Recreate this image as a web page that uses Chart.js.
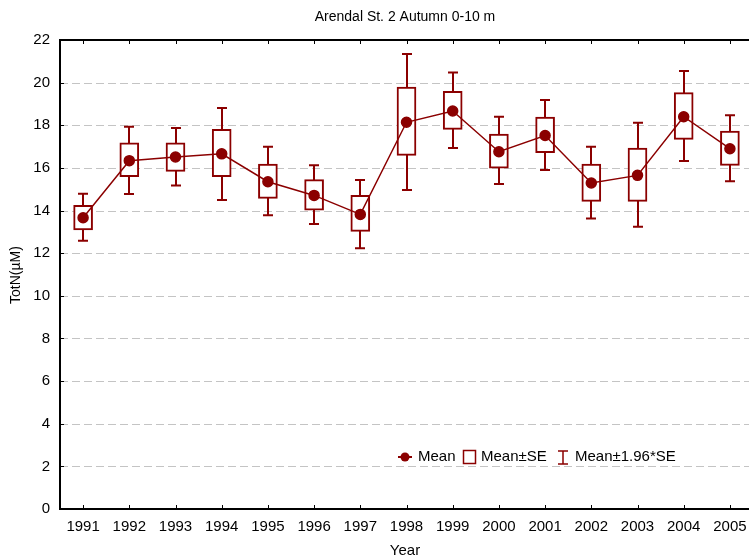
<!DOCTYPE html>
<html>
<head>
<meta charset="utf-8">
<script src="https://cdn.jsdelivr.net/npm/chart.js@4"></script>
<style>
  html, body { margin: 0; padding: 0; background: #fff; overflow: hidden; }
  #wrap { width: 749px; height: 557px; overflow: hidden; position: relative; }
  #inner { width: 754px; height: 557px; position: absolute; left: 0; top: 0; }
</style>
</head>
<body>
<div id="wrap"><div id="inner"><canvas id="chart" width="754" height="557"></canvas></div></div>
<script>
// ----------------------
// DATA
// ----------------------
const years = ["1991","1992","1993","1994","1995","1996","1997","1998","1999","2000","2001","2002","2003","2004","2005"];
const means = [13.66, 16.34, 16.51, 16.66, 15.35, 14.71, 13.82, 18.14, 18.67, 16.76, 17.52, 15.29, 15.65, 18.40, 16.90];
const seLow  = [13.09, 15.59, 15.84, 15.59, 14.57, 14.02, 13.02, 16.59, 17.81, 15.99, 16.71, 14.43, 14.43, 17.34, 16.12];
const seHigh = [14.24, 17.18, 17.18, 17.81, 16.18, 15.45, 14.71, 19.79, 19.59, 17.59, 18.39, 16.18, 16.93, 19.53, 17.73];
const ciLow  = [12.58, 14.78, 15.18, 14.49, 13.78, 13.37, 12.23, 14.96, 16.93, 15.24, 15.90, 13.63, 13.24, 16.32, 15.38];
const ciHigh = [14.79, 17.93, 17.87, 18.81, 16.99, 16.12, 15.43, 21.34, 20.48, 18.40, 19.18, 16.99, 18.12, 20.54, 18.47];
const yTicks = [0, 2, 4, 6, 8, 10, 12, 14, 16, 18, 20, 22];

const RED = "#8b0000";
const FONT = '"Liberation Sans", Arial, sans-serif';

// ----------------------
// PLUGIN: frame, grid, whiskers, texts, legend
// ----------------------
const decor = {
  id: "decor",
  beforeDatasetsDraw(chart) {
    const { ctx, chartArea: a, scales: { x, y } } = chart;
    ctx.save();
    // dashed grid
    ctx.strokeStyle = "#c4c4c4";
    ctx.lineWidth = 1;
    ctx.setLineDash([8, 4]);
    yTicks.forEach(v => {
      if (v === 0 || v === 22) return;
      const py = Math.round(y.getPixelForValue(v)) + 0.5;
      ctx.beginPath(); ctx.moveTo(a.left, py); ctx.lineTo(a.right, py); ctx.stroke();
    });
    ctx.setLineDash([]);
    // whiskers
    ctx.strokeStyle = RED;
    ctx.lineWidth = 2;
    years.forEach((yr, i) => {
      const px = Math.round(x.getPixelForValue(i));
      const lo = y.getPixelForValue(ciLow[i]);
      const hi = y.getPixelForValue(ciHigh[i]);
      ctx.beginPath();
      ctx.moveTo(px, lo); ctx.lineTo(px, hi);
      ctx.moveTo(px - 5, lo); ctx.lineTo(px + 5, lo);
      ctx.moveTo(px - 5, hi); ctx.lineTo(px + 5, hi);
      ctx.stroke();
    });
    ctx.restore();
  },
  afterDraw(chart) {
    const { ctx, chartArea: a, scales: { x, y } } = chart;
    ctx.save();
    // axes frame
    ctx.strokeStyle = "#000";
    ctx.lineWidth = 2;
    ctx.beginPath();
    ctx.moveTo(a.right, a.top); ctx.lineTo(a.left, a.top);
    ctx.lineTo(a.left, a.bottom); ctx.lineTo(a.right, a.bottom);
    ctx.stroke();
    ctx.lineWidth = 1;
    ctx.beginPath();
    years.forEach((yr, i) => {
      const px = Math.round(x.getPixelForValue(i)) + 0.5;
      ctx.moveTo(px, a.top); ctx.lineTo(px, a.top + 4);
      ctx.moveTo(px, a.bottom); ctx.lineTo(px, a.bottom - 4);
    });
    yTicks.forEach(v => {
      const py = Math.round(y.getPixelForValue(v)) + 0.5;
      ctx.moveTo(a.left, py); ctx.lineTo(a.left + 4, py);
    });
    ctx.stroke();

    // titles
    ctx.fillStyle = "#000";
    ctx.textAlign = "center";
    ctx.textBaseline = "middle";
    ctx.font = "14px " + FONT;
    ctx.fillText("Arendal St. 2 Autumn 0-10 m", 405, 17);
    ctx.font = "15px " + FONT;
    ctx.fillText("Year", 405, 551);
    ctx.save();
    ctx.translate(16, 275);
    ctx.rotate(-Math.PI / 2);
    ctx.font = "14px " + FONT;
    ctx.fillText("TotN(\u00b5M)", 0, 0);
    ctx.restore();

    // legend
    const ly = 457;
    ctx.strokeStyle = RED;
    ctx.fillStyle = RED;
    ctx.lineWidth = 2;
    ctx.beginPath(); ctx.moveTo(398, ly); ctx.lineTo(412, ly); ctx.stroke();
    ctx.beginPath(); ctx.arc(405, ly, 4.5, 0, Math.PI * 2); ctx.fill();
    ctx.lineWidth = 1.5;
    ctx.strokeRect(463.5, 450.5, 12, 13);
    ctx.beginPath();
    ctx.moveTo(563, 451); ctx.lineTo(563, 464);
    ctx.moveTo(558, 451); ctx.lineTo(568, 451);
    ctx.moveTo(558, 464); ctx.lineTo(568, 464);
    ctx.stroke();
    ctx.fillStyle = "#000";
    ctx.textAlign = "left";
    ctx.font = "15px " + FONT;
    ctx.fillText("Mean", 418, ly);
    ctx.fillText("Mean\u00b1SE", 481, ly);
    ctx.fillText("Mean\u00b11.96*SE", 575, ly);
    ctx.restore();
  }
};

// ----------------------
// CHART
// ----------------------
const boxData = years.map((yr, i) => [seLow[i], seHigh[i]]);

new Chart(document.getElementById("chart"), {
  data: {
    labels: years,
    datasets: [
      {
        type: "line",
        data: means,
        order: 0,
        borderColor: RED,
        borderWidth: 1.5,
        pointRadius: 5,
        pointBackgroundColor: RED,
        pointBorderColor: RED,
        tension: 0
      },
      {
        type: "bar",
        data: boxData,
        order: 1,
        backgroundColor: "#ffffff",
        borderColor: RED,
        borderWidth: 2,
        borderSkipped: false,
        barThickness: 19
      }
    ]
  },
  options: {
    responsive: false,
    animation: false,
    layout: { autoPadding: false, padding: { top: 40, left: 0, right: 1, bottom: 0 } },
    plugins: { legend: { display: false }, tooltip: { enabled: false } },
    scales: {
      x: {
        type: "category",
        offset: true,
        grid: { display: false, drawTicks: false },
        border: { display: false },
        ticks: { color: "#000", font: { size: 15, family: FONT }, padding: 9, maxRotation: 0 },
        afterFit: s => { s.height = 48; s.paddingLeft = 0; s.paddingRight = 0; }
      },
      y: {
        min: 0,
        max: 22,
        grid: { display: false, drawTicks: false },
        border: { display: false },
        ticks: { stepSize: 2, color: "#000", font: { size: 15, family: FONT }, padding: 10 },
        afterFit: s => { s.width = 60; s.paddingTop = 0; s.paddingBottom = 0; }
      }
    }
  },
  plugins: [decor]
});
</script>
</body>
</html>
